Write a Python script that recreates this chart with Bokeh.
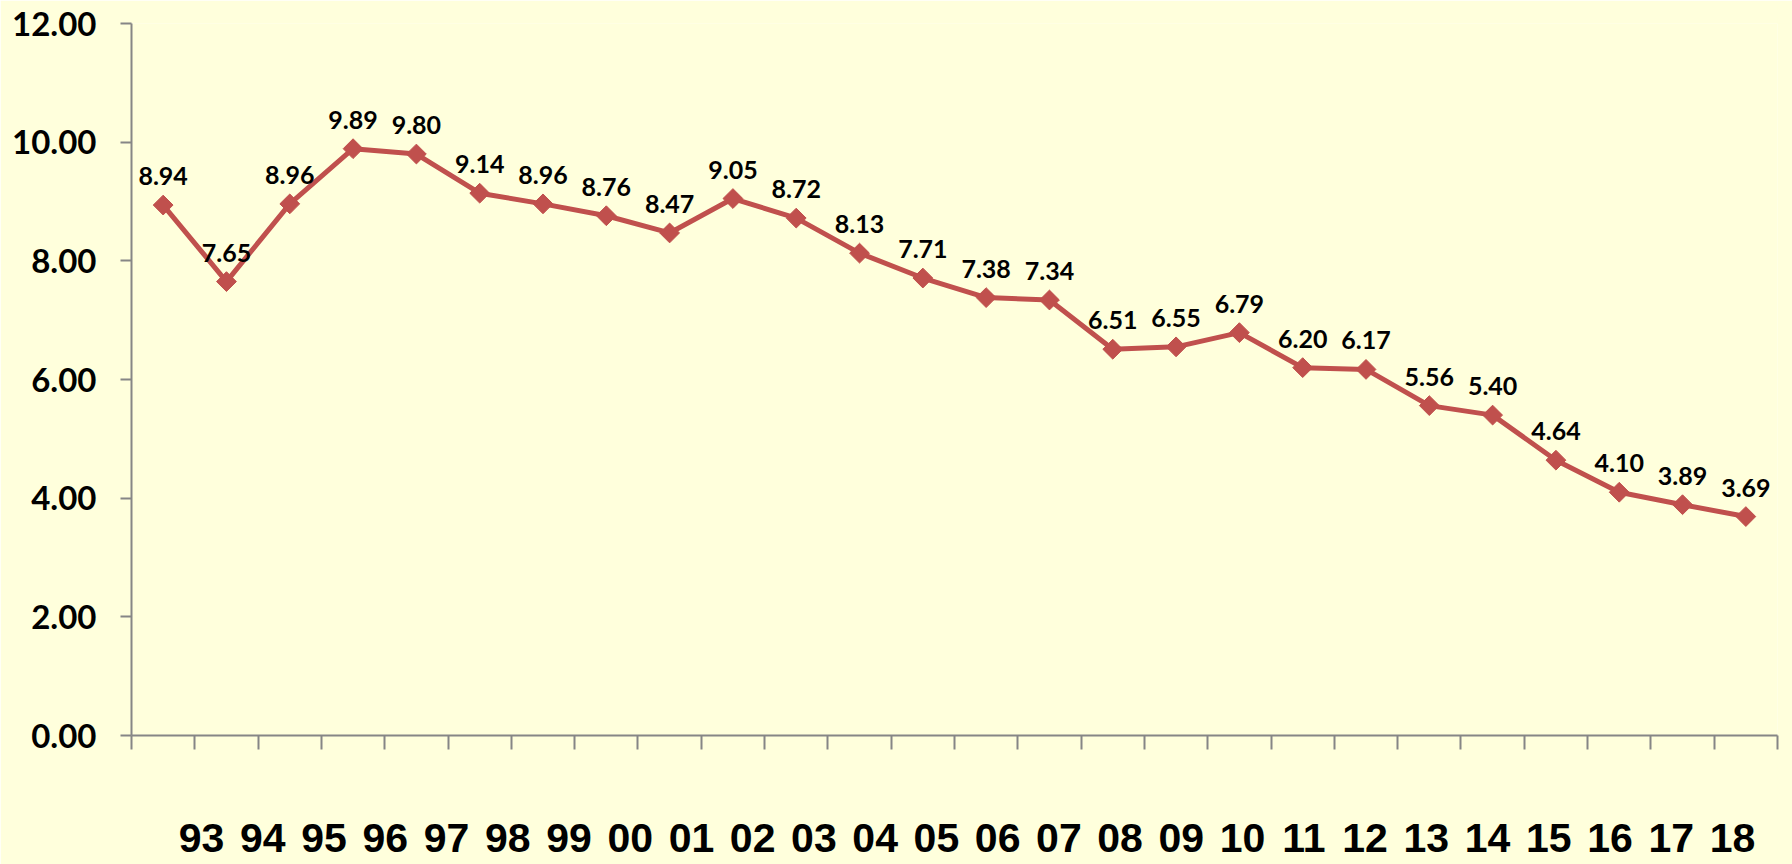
from bokeh.plotting import figure
from bokeh.models import (Range1d, LinearAxis, FixedTicker, ColumnDataSource,
                          PrintfTickFormatter, CustomLabelingPolicy)
from bokeh.core.properties import value
from bokeh.embed import file_html
from bokeh.resources import INLINE

years = ["93", "94", "95", "96", "97", "98", "99", "00", "01", "02", "03", "04", "05",
         "06", "07", "08", "09", "10", "11", "12", "13", "14", "15", "16", "17", "18"]
values = [8.94, 7.65, 8.96, 9.89, 9.80, 9.14, 8.96, 8.76, 8.47, 9.05, 8.72, 8.13, 7.71,
          7.38, 7.34, 6.51, 6.55, 6.79, 6.20, 6.17, 5.56, 5.40, 4.64, 4.10, 3.89, 3.69]
y_ticks = [0, 2, 4, 6, 8, 10, 12]

BG = "#FFFFDC"
RED = "#C0504D"
GREY = "#868686"

n = len(values)
src = ColumnDataSource(dict(x=[i + 0.5 for i in range(n)], y=values,
                            lab=["%.2f" % v for v in values]))

p = figure(width=1792, height=864, x_range=Range1d(0, n), y_range=Range1d(0, 12),
           output_backend="svg", toolbar_location=None, x_axis_location=None,
           min_border_left=131, min_border_right=15, min_border_top=23, min_border_bottom=129,
           background_fill_color=BG, border_fill_color=BG, outline_line_color=None)
p.grid.visible = False

yax = p.yaxis[0]
yax.ticker = FixedTicker(ticks=y_ticks)
yax.formatter = PrintfTickFormatter(format="%.2f")
yax.axis_line_color = GREY
yax.axis_line_width = 2
yax.major_tick_line_color = GREY
yax.major_tick_line_width = 2
yax.major_tick_in = 0
yax.major_tick_out = 11
yax.minor_tick_line_color = None
yax.major_label_standoff = 24
yax.major_label_text_font = "Lato"
yax.major_label_text_font_style = "bold"
yax.major_label_text_font_size = "33px"
yax.major_label_text_color = "black"

hide_all = CustomLabelingPolicy(code="""
    for (const i of [...indices]) { indices.unset(i) }
    return indices
""")
xax = LinearAxis(ticker=FixedTicker(ticks=list(range(n + 1))),
                 axis_line_color=GREY, axis_line_width=2,
                 major_tick_line_color=GREY, major_tick_line_width=2,
                 major_tick_in=0, major_tick_out=14, minor_tick_line_color=None,
                 major_label_policy=hide_all,
                 major_label_text_font_size="1px", major_label_standoff=0)
p.add_layout(xax, "below")

p.extra_x_ranges = {"lab": Range1d(-1.143, 25.734)}
lax = LinearAxis(x_range_name="lab", ticker=FixedTicker(ticks=list(range(n))),
                 major_label_overrides={i: y for i, y in enumerate(years)},
                 axis_line_color=None, major_tick_line_color=None, minor_tick_line_color=None,
                 major_label_standoff=64,
                 major_label_text_font="Liberation Sans",
                 major_label_text_font_style="bold",
                 major_label_text_font_size="41px",
                 major_label_text_color="black")
p.add_layout(lax, "below")

p.line("x", "y", source=src, line_color=RED, line_width=5)
p.scatter("x", "y", source=src, marker="square", angle=0.785398, size=14,
          fill_color=RED, line_color=RED)
p.text("x", "y", text="lab", source=src, text_align="center", text_baseline="alphabetic",
       y_offset=-29, text_font=value("Lato"), text_font_style="bold",
       text_font_size="25px", text_color="black")

open("out.html", "w").write(file_html(p, INLINE))
